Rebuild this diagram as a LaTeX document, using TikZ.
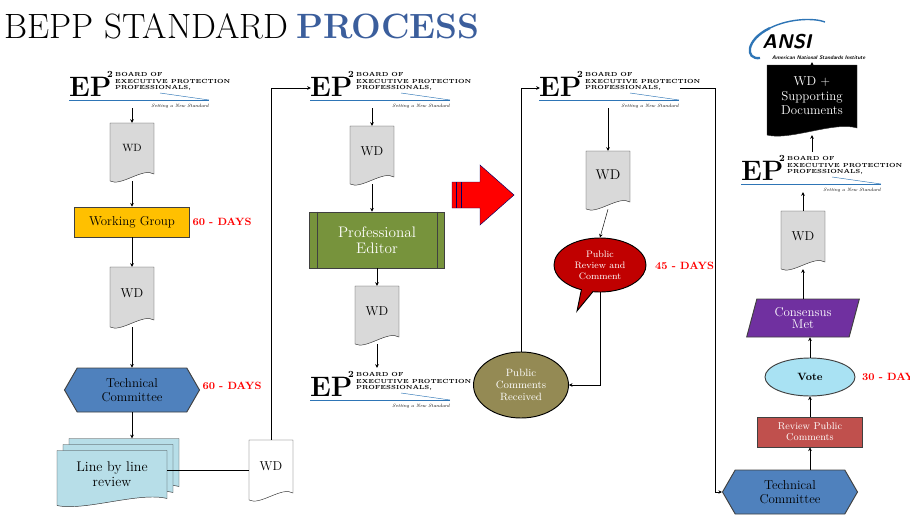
\documentclass[tikz,border=0pt]{standalone}
\usepackage{tikz}
\usetikzlibrary{positioning}
\usetikzlibrary{arrows.meta}
\usetikzlibrary{shapes.symbols,shapes.geometric,shapes.callouts}
\usetikzlibrary{calc}

\definecolor{titleblue}{HTML}{3B5E9C}
\definecolor{wgyellow}{HTML}{FFC000}
\definecolor{tcblue}{HTML}{4F81BD}
\definecolor{lblblue}{HTML}{B7DEE8}
\definecolor{pegreen}{HTML}{77933C}
\definecolor{prcred}{HTML}{C00000}
\definecolor{pcrolive}{HTML}{948A54}
\definecolor{votecyan}{HTML}{A9E2F3}
\definecolor{rpcred}{HTML}{C0504D}
\definecolor{cmpurple}{HTML}{7030A0}
\definecolor{docgray}{HTML}{D9D9D9}
\definecolor{logoblue}{HTML}{2E75B6}

\tikzset{
  flow/.style={-{Stealth[length=3pt,width=3pt]},thin},
  days/.style={text=red,font=\fontsize{9}{9}\selectfont\bfseries},
  box/.style={draw=black!75,thick,text=black,align=center,font=\fontsize{11}{12}\selectfont},
  wdtext/.style={font=\fontsize{11}{11}\selectfont},
}

% document shape: name, cx, cy, w, h, fill
\newcommand\wdshape[6]{%
  \node[inner sep=0pt,minimum width=#4*0.03cm,minimum height=#5*0.03cm] (#1) at (#2,#3) {};
  \filldraw[fill=#6,draw=black!80] ({#2-#4/2},{#3-#5/2}) -- ({#2+#4/2},{#3-#5/2})
    -- ({#2+#4/2},{#3+#5/2-7}) .. controls ({#2+#4/4},{#3+#5/2-14}) and ({#2-#4/4},{#3+#5/2+6}) .. ({#2-#4/2},{#3+#5/2}) -- cycle;}

% EP2 logo: name, cx, cy
\newcommand\eplogo[3]{%
  \node[inner sep=0pt,minimum width=140*0.03cm,minimum height=40*0.03cm] (#1) at (#2,#3) {};
  \node[anchor=west,inner sep=0pt,font=\fontsize{24}{24}\selectfont\bfseries] at ({#2-71},{#3-1}) {EP};
  \node[inner sep=0pt,font=\fontsize{8}{8}\selectfont\bfseries] at ({#2-30},{#3-14}) {2};
  \node[anchor=north west,inner sep=0pt,align=left,font=\fontsize{5}{5.8}\selectfont\bfseries] at ({#2-25},{#3-16}) {BOARD OF\\EXECUTIVE PROTECTION\\PROFESSIONALS,};
  \draw[logoblue,thick] ({#2-71},{#3+12}) -- ({#2+69},{#3+12});
  \draw[logoblue] ({#2+20},{#3+5}) -- ({#2+69},{#3+12});
  \node[anchor=east,inner sep=0pt,font=\fontsize{4}{4}\selectfont\itshape] at ({#2+69},{#3+18}) {Setting a New Standard};}

\begin{document}
\begin{tikzpicture}[x=0.03cm,y=-0.03cm]
\useasboundingbox (0,0) rectangle (910,531);

% title
\node[anchor=west,inner sep=0pt,font=\fontsize{30}{30}\selectfont] (title) at (4,26) {BEPP STANDARD};
\node[right=6pt of title,inner sep=0pt,text=titleblue,font=\fontsize{30}{30}\selectfont\bfseries] {PROCESS};

% first column
\eplogo{logo1}{140}{88}
\wdshape{wd1}{132}{152}{44}{58}{docgray}
\node[font=\small] at (132,148) {WD};
\node[box,fill=wgyellow,minimum width=115*0.03cm,minimum height=30*0.03cm] (wg) at (132,222) {Working Group};
\node[days] at (222,222) {60 - DAYS};
\wdshape{wd2}{132}{297}{44}{60}{docgray}
\node[wdtext] at (132,293) {WD};
\node[box,fill=tcblue,signal,signal to=east and west,signal pointer angle=120,minimum width=135*0.03cm,minimum height=44*0.03cm] (tc1) at (132,390) {Technical\\Committee};
\node[days] at (232,386) {60 - DAYS};
\wdshape{lblc}{124}{466}{110}{55}{lblblue}
\wdshape{lblb}{118}{472}{110}{55}{lblblue}
\wdshape{lbl}{112}{478}{110}{55}{lblblue}
\node[align=center,font=\fontsize{12}{13}\selectfont] at (112,474) {Line by line\\review};
\wdshape{wd3}{271}{470}{44}{60}{white}
\node[wdtext] at (271,466) {WD};

\draw[flow] (logo1.south -| wd1.north) -- (wd1.north);
\draw[flow] (wd1.south) -- (wg.north);
\draw[flow] (wg.south) -- (wd2.north);
\draw[flow] (wd2.south) -- (tc1.north);
\draw[flow] (tc1.south) -- (lblc.north -| tc1.south);
\draw (lbl.east |- wd3.west) -- (wd3.west);

% second column
\eplogo{logo2}{381}{88}
\draw[flow] (wd3.north) |- (logo2.west);
\wdshape{wd4}{372}{155}{44}{58}{docgray}
\node[wdtext] at (372,151) {WD};
\node[box,fill=pegreen,minimum width=135*0.03cm,minimum height=56*0.03cm,font=\fontsize{13}{14}\selectfont,text=white] (pe) at (377,240) {Professional\\Editor};
\draw[black!75] ($(pe.north west)+(8,0)$) -- ($(pe.south west)+(8,0)$);
\draw[black!75] ($(pe.north east)+(-8,0)$) -- ($(pe.south east)+(-8,0)$);
\wdshape{wd5}{377}{315}{44}{58}{docgray}
\node[wdtext] at (377,311) {WD};
\eplogo{logo3}{381}{388}
\draw[flow] (logo2.south -| wd4.north) -- (wd4.north);
\draw[flow] (wd4.south) -- (pe.north -| wd4.south);
\draw[flow] (pe.south) -- (wd5.north);
\draw[flow] (wd5.south) -- (logo3.north -| wd5.south);

% red arrow
\filldraw[fill=red,draw=black!60!blue] (452,182) -- (480,182) -- (480,165) -- (514,195) -- (480,225) -- (480,208) -- (452,208) -- cycle;
\draw[black!60!blue,thick] (456,182) -- (456,208);
\draw[black!60!blue,thick] (461,182) -- (461,208);

% third column
\eplogo{logo4}{610}{88}
\wdshape{wd6}{608}{180}{44}{58}{docgray}
\node[font=\large] at (608,175) {WD};
\node[ellipse callout,draw=black,thick,fill=prcred,text=white,align=center,inner sep=0pt,minimum width=92*0.03cm,minimum height=54*0.03cm,font=\fontsize{8}{9.5}\selectfont,callout relative pointer={(-0.3cm,-0.6cm)}] (prc) at (600,265) {Public\\Review and\\Comment};
\node[days,anchor=west] at (651,266) {45 - DAYS};
\node[ellipse,draw=black,thick,fill=pcrolive,text=white,align=center,inner sep=0pt,minimum width=95*0.03cm,minimum height=66*0.03cm,font=\fontsize{9}{10.5}\selectfont] (pcr) at (521,385) {Public\\Comments\\Received};
\draw[flow] (logo4.south -| wd6.north) -- (wd6.north);
\draw[flow] (wd6.south) -- (prc.north);
\draw[flow] (prc.south) |- (pcr.east);
\draw[flow] (pcr.north) |- (logo4.west);

% fourth column
\coordinate (bend) at (715,90);
\node[box,fill=tcblue,signal,signal to=east and west,signal pointer angle=120,minimum width=135*0.03cm,minimum height=44*0.03cm] (tc2) at (790,492) {Technical\\Committee};
\node[box,fill=rpcred,text=white,minimum width=105*0.03cm,minimum height=30*0.03cm,font=\fontsize{8.5}{9.5}\selectfont] (rpc) at (810,432) {Review Public\\Comments};
\node[ellipse,draw=black!75,thick,fill=votecyan,minimum width=90*0.03cm,minimum height=38*0.03cm,font=\fontsize{9}{9}\selectfont\bfseries] (vote) at (810,377) {Vote};
\node[days,anchor=west] at (858,377) {30 - DAYS};
\node[box,fill=cmpurple,text=white,trapezium,trapezium left angle=75,trapezium right angle=105,minimum width=110*0.03cm,minimum height=38*0.03cm,inner sep=1pt,font=\fontsize{11}{11}\selectfont] (cm) at (803,318) {Consensus\\Met};
\wdshape{wd7}{803}{240}{44}{58}{docgray}
\node[wdtext] at (803,236) {WD};
\eplogo{logo5}{812}{172}
\wdshape{sd}{812}{100}{90}{70}{black}
\node[text=white,align=center,font=\fontsize{11}{12.5}\selectfont] at (812,96) {WD +\\Supporting\\Documents};
% ansi logo
\node[inner sep=0pt,minimum width=140*0.03cm,minimum height=40*0.03cm] (ansi) at (812,42) {};
\draw[logoblue,line width=2pt] (770,28) .. controls (745,40) and (745,60) .. (760,58);
\draw[logoblue,line width=1.2pt] (770,28) .. controls (790,18) and (815,18) .. (825,22);
\node[inner sep=0pt,font=\sffamily\bfseries\itshape\fontsize{17}{17}\selectfont] at (787,42) {ANSI};
\node[anchor=west,inner sep=0pt,font=\sffamily\bfseries\itshape\fontsize{4.5}{4.5}\selectfont] at (772,58) {American National Standards Institute};

\draw[flow] (logo4.east) -- (logo4.east -| bend) |- (tc2.west);
\draw[flow] (tc2.north -| rpc.south) -- (rpc.south);
\draw[flow] (rpc.north) -- (vote.south);
\draw[flow] (vote.north) -- (cm.south -| vote.north);
\draw[flow] (cm.north -| wd7.south) -- (wd7.south);
\draw[flow] (wd7.north) -- (logo5.south -| wd7.north);
\draw[flow] (logo5.north) -- (sd.south);
\draw[flow] (sd.north) -- (ansi.south);
\end{tikzpicture}
\end{document}
